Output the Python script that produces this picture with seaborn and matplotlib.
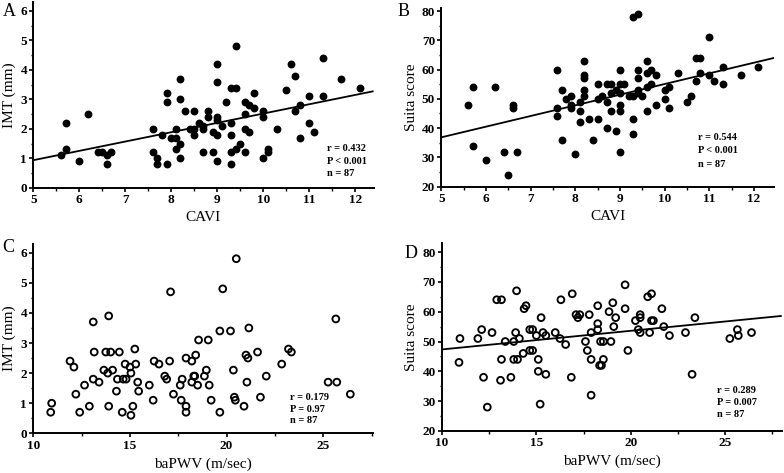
import numpy as np
import pandas as pd
import matplotlib
matplotlib.use("Agg")
import matplotlib.pyplot as plt
from matplotlib.ticker import MultipleLocator
import seaborn as sns

# ---------------- data ----------------
cavi_a = [5.6, 5.7, 5.7, 6.0, 6.2, 6.4, 6.5, 6.6, 6.6, 6.7,
          7.6, 7.6, 7.7, 7.7, 7.8, 7.9, 7.9, 7.9, 8.0, 8.1,
          8.1, 8.1, 8.2, 8.2, 8.2, 8.2, 8.3, 8.4, 8.5, 8.5,
          8.5, 8.6, 8.7, 8.7, 8.7, 8.8, 8.8, 8.9, 8.9, 9.0,
          9.0, 9.0, 9.0, 9.0, 9.0, 9.1, 9.2, 9.3, 9.3, 9.3,
          9.3, 9.3, 9.4, 9.4, 9.4, 9.5, 9.6, 9.6, 9.6, 9.6,
          9.7, 9.7, 9.8, 9.8, 10.0, 10.0, 10.0, 10.1, 10.1, 10.3,
          10.5, 10.6, 10.7, 10.7, 10.8, 10.8, 11.0, 11.0, 11.1, 11.3,
          11.3, 11.7, 12.1]
imt_a = [1.1, 2.2, 1.3, 0.9, 2.5, 1.2, 1.2, 1.1, 0.8, 1.2,
         2.0, 1.2, 1.0, 0.8, 1.8, 3.2, 2.9, 0.8, 1.7, 1.7,
         2.0, 1.3, 3.7, 3.0, 1.5, 1.0, 2.6, 2.0, 2.6, 2.0,
         1.8, 2.2, 2.1, 2.0, 1.2, 2.6, 2.4, 1.9, 1.2, 4.2,
         3.6, 2.4, 2.3, 1.8, 0.9, 2.1, 2.9, 3.4, 2.2, 1.8,
         1.2, 0.8, 4.8, 3.4, 1.3, 1.5, 2.9, 2.5, 2.0, 1.2,
         2.8, 1.9, 3.2, 2.7, 2.6, 2.4, 1.0, 1.3, 1.2, 2.0,
         3.3, 4.2, 3.8, 2.6, 2.8, 1.7, 3.1, 2.2, 1.9, 4.4,
         3.1, 3.7, 3.4]

cavi_b = [5.6, 5.7, 5.7, 6.0, 6.2, 6.4, 6.5, 6.6, 6.6, 6.7,
          7.6, 7.6, 7.6, 7.7, 7.7, 7.8, 7.9, 7.9, 7.9, 8.0,
          8.1, 8.1, 8.1, 8.2, 8.2, 8.2, 8.2, 8.2, 8.3, 8.4,
          8.5, 8.5, 8.5, 8.6, 8.7, 8.8, 8.7, 8.7, 8.8, 8.8,
          8.9, 8.9, 9.0, 9.0, 9.0, 9.0, 9.0, 9.0, 9.1, 9.2, 9.3,
          9.3, 9.4, 9.3, 9.3, 9.4, 9.4, 9.4, 9.4, 9.5,
          9.6, 9.6, 9.6, 9.6, 9.7, 9.7, 9.8, 9.8, 10.0, 10.0,
          10.1, 10.1, 10.3, 10.5, 10.6, 10.7, 10.8, 10.7, 10.8, 11.0,
          11.0, 11.1, 11.3, 11.3, 11.7, 12.1]
suita_b = [48, 54, 34, 29, 54, 32, 24, 48, 47, 32,
           60, 47, 44, 53, 36, 50, 51, 48, 47, 31,
           49, 46, 42, 63, 58, 57, 53, 51, 43, 36,
           55, 50, 43, 51, 55, 55, 49, 40, 52, 46,
           53, 39, 60, 55, 52, 48, 46, 32, 55, 51, 51,
           78, 79, 43, 38, 60, 57, 53, 52, 51,
           63, 59, 54, 46, 60, 55, 58, 48, 53, 50,
           54, 47, 59, 49, 51, 64, 64, 56, 59, 71,
           58, 56, 61, 55, 58, 61]

pwv_c = [10.9, 10.95, 11.9, 12.1, 12.2, 12.4, 12.65, 12.9, 13.1, 13.15,
         13.1, 13.4, 13.65, 13.75, 13.85, 13.9, 13.9, 14.0, 14.1, 14.3,
         14.35, 14.45, 14.6, 14.65, 14.8, 14.75, 15.0, 15.05, 15.15, 15.05,
         15.25, 15.3, 15.4, 15.45, 16.0, 16.2, 16.25, 16.5, 16.8, 16.9,
         17.05, 17.1, 17.25, 17.6, 17.65, 17.7, 17.9, 17.9, 17.9, 18.2,
         18.2, 18.3, 18.35, 18.4, 18.5, 18.55, 18.85, 18.95, 19.05, 19.1,
         19.2, 19.65, 19.65, 19.8, 20.2, 20.35, 20.4, 20.45, 20.5, 20.9,
         21.0, 21.05, 21.1, 21.15, 21.6, 21.75, 22.05, 22.85, 23.2, 23.35,
         25.25, 25.65, 25.7, 26.4]
imt_c = [0.7, 1.0, 2.4, 2.2, 1.3, 0.7, 1.6, 0.9, 3.7, 2.7,
         1.8, 1.7, 2.1, 2.7, 2.0, 3.9, 0.9, 2.7, 2.1, 1.4,
         1.8, 2.7, 0.7, 1.8, 1.8, 2.3, 2.2, 2.0, 0.9, 0.6,
         2.8, 2.3, 1.7, 1.4, 1.6, 1.1, 2.4, 2.3, 1.9, 1.8,
         2.4, 4.7, 1.3, 1.6, 1.1, 1.8, 2.5, 0.9, 0.7, 2.4,
         1.7, 1.9, 1.9, 2.6, 1.6, 3.1, 1.9, 2.1, 3.1, 1.6,
         1.1, 3.4, 0.7, 4.8, 3.4, 2.1, 1.2, 1.1, 5.8, 0.9,
         2.6, 1.7, 2.5, 3.5, 2.7, 1.2, 1.9, 2.3, 2.8, 2.7,
         1.7, 3.8, 1.7, 1.3]

pwv_d = [10.9, 10.95, 11.9, 12.1, 12.65, 12.2, 12.4, 12.9, 13.15, 13.1,
         13.15, 13.35, 13.65, 13.8, 13.8, 14.0, 13.95, 13.9, 14.1, 14.3,
         14.35, 14.45, 14.65, 14.8, 14.65, 14.8, 15.0, 15.1, 15.1, 15.2,
         15.25, 15.35, 15.5, 15.5, 16.0, 16.25, 16.3, 16.55, 16.85, 16.9,
         17.1, 17.3, 17.2, 17.6, 17.7, 17.8, 17.9, 17.9, 17.9, 18.25,
         18.25, 18.25, 18.4, 18.55, 18.35, 18.45, 18.55, 19.05, 18.85, 19.2,
         19.1, 18.95, 19.7, 19.7, 19.85, 20.25, 20.5, 20.5, 20.4, 20.5,
         20.9, 21.1, 21.0, 21.1, 21.2, 21.65, 21.75, 22.05, 22.9, 23.25,
         23.4, 25.25, 25.65, 25.7, 26.4]
suita_d = [43, 51, 51, 54, 53, 38, 28, 64, 64, 37,
           44, 50, 38, 50, 44, 44, 67, 53, 51, 46,
           61, 62, 54, 54, 47, 47, 52, 44, 40, 29,
           58, 53, 52, 39, 53, 51, 64, 49, 38, 66,
           59, 59, 58, 50, 47, 59, 53, 44, 32, 62,
           56, 54, 50, 50, 42, 42, 44, 63, 60, 58,
           55, 50, 69, 61, 47, 57, 59, 58, 54, 53,
           65, 66, 53, 57, 57, 61, 55, 52, 53, 39,
           58, 51, 54, 52, 53]

stats_a = ["r = 0.432", "P < 0.001", "n = 87"]
stats_b = ["r = 0.544", "P < 0.001", "n = 87"]
stats_c = ["r = 0.179", "P = 0.97", "n = 87"]
stats_d = ["r = 0.289", "P = 0.007", "n = 87"]

# ---------------- style ----------------
sns.set_theme(style="ticks")
plt.rcParams["font.family"] = ["Liberation Serif", "DejaVu Serif"]
plt.rcParams["axes.linewidth"] = 1.4

fig = plt.figure(figsize=(7.84, 4.73), dpi=100)
fig.patch.set_facecolor("white")


def panel(rect, x, y, filled, xlim, ylim, xmaj, xmin, ymaj, ymin,
          xlabel, ylabel, stats, stat_xy, fit, letter, letter_xy):
    ax = fig.add_axes(rect)
    ax.set_xlim(xlim)
    ax.set_ylim(ylim)
    df = pd.DataFrame({"x": x, "y": y})
    if filled:
        sns.scatterplot(data=df, x="x", y="y", ax=ax, color="black",
                        s=32, linewidth=0, zorder=3)
    else:
        sns.scatterplot(data=df, x="x", y="y", ax=ax, color="black",
                        s=24, linewidth=1.35, zorder=3)
        coll = ax.collections[-1]
        coll.set_facecolor("none")
        coll.set_edgecolor("black")
    if fit:
        sns.regplot(data=df, x="x", y="y", ax=ax, scatter=False, ci=None,
                    truncate=False, color="black",
                    line_kws=dict(lw=1.3, solid_capstyle="butt"))
    ax.set_xlim(xlim)
    ax.set_ylim(ylim)
    ax.xaxis.set_major_locator(MultipleLocator(xmaj))
    ax.xaxis.set_minor_locator(MultipleLocator(xmin))
    ax.yaxis.set_major_locator(MultipleLocator(ymaj))
    ax.yaxis.set_minor_locator(MultipleLocator(ymin))
    for s in ["top", "right"]:
        ax.spines[s].set_visible(False)
    for s in ["left", "bottom"]:
        ax.spines[s].set_linewidth(1.4)
        ax.spines[s].set_color("black")
    ax.tick_params(which="major", direction="out", length=3, width=1.2,
                   labelsize=9.5, pad=1.5, colors="black")
    ax.tick_params(which="minor", direction="out", length=1.8, width=1.0,
                   colors="black")
    for lab in ax.get_xticklabels() + ax.get_yticklabels():
        lab.set_fontweight("bold")
    ax.set_xlabel(xlabel, fontsize=11, labelpad=4, color="black")
    ax.set_ylabel(ylabel, fontsize=11, labelpad=3, color="black")
    ax.set_facecolor("white")
    ax.grid(False)
    sx, sys_ = stat_xy
    for i, t in enumerate(stats):
        ax.text(sx, sys_[i], t, transform=ax.transAxes, fontsize=7.5,
                fontweight="bold", ha="left", va="center", color="black")
    fig.text(letter_xy[0] / 784, 1 - letter_xy[1] / 473, letter,
             fontsize=13, ha="center", va="center", color="black")
    return ax


panel([0.0425, 0.6032, 0.434, 0.3923], cavi_a, imt_a, True, (5, 12.4), (0, 6.3),
      1, 0.5, 1, 0.5, "CAVI", "IMT (mm)", stats_a,
      (0.863, [0.209, 0.139, 0.074]), True, "A", (9, 12))
panel([0.5629, 0.6053, 0.4245, 0.3776], cavi_b, suita_b, True, (5, 12.45), (20, 81),
      1, 0.5, 10, 5, "CAVI", "Suita score", stats_b,
      (0.771, [0.278, 0.200, 0.127]), True, "B", (404, 11))
panel([0.0425, 0.0839, 0.4327, 0.4009], pwv_c, imt_c, False, (10, 27.55), (0, 6.3),
      5, 2.5, 1, 0.5, "baPWV (m/sec)", "IMT (mm)", stats_c,
      (0.757, [0.188, 0.127, 0.070]), False, "C", (8, 247))
panel([0.5638, 0.0888, 0.4333, 0.3973], pwv_d, suita_d, False, (10, 28), (20, 83),
      5, 2.5, 10, 5, "baPWV (m/sec)", "Suita score", stats_d,
      (0.81, [0.213, 0.151, 0.090]), True, "D", (411, 253))

fig.savefig("out.png", dpi=100, facecolor="white")
